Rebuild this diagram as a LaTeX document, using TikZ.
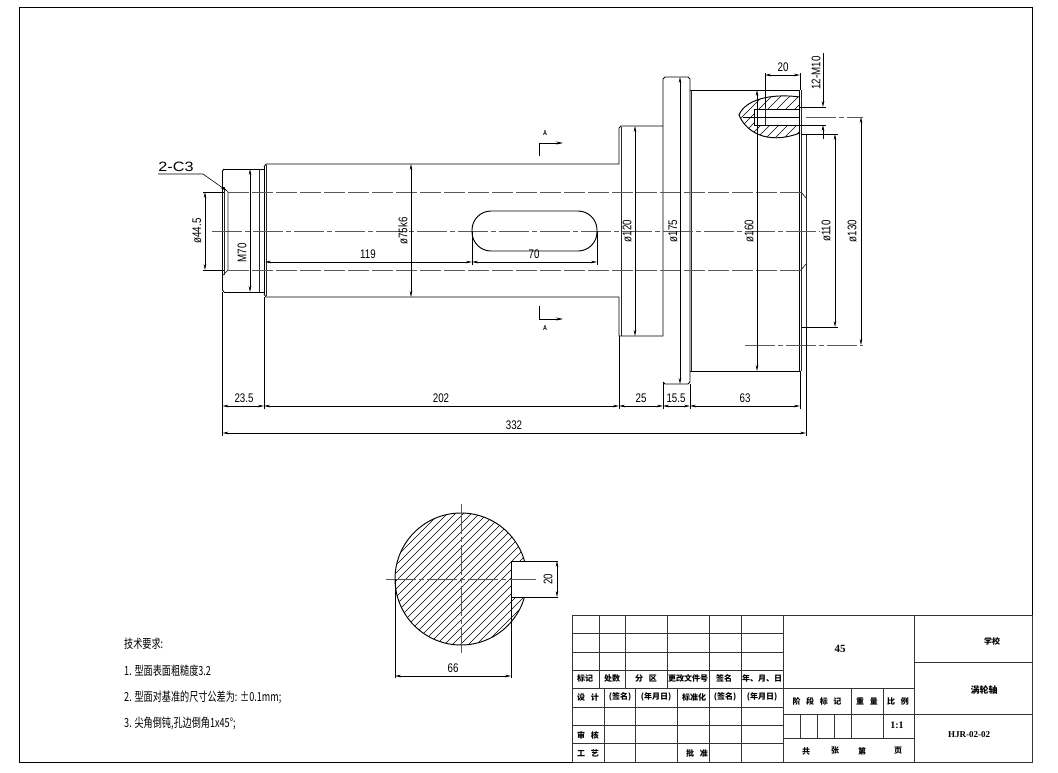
\documentclass[tikz,border=0pt]{standalone}
\usepackage{fontspec}
\usetikzlibrary{arrows.meta}
\newfontfamily\dimfont[FakeStretch=0.78]{Liberation Sans}
\newfontfamily\leaderfont[FakeStretch=1.2]{Liberation Sans}
\newfontfamily\cjk[FakeStretch=0.73]{Noto Sans CJK SC}
\newfontfamily\cjkb{Noto Sans CJK SC}
\newfontfamily\titlefont{Liberation Serif}
\newcommand{\gp}{\hspace{.7em}}
\tikzset{
  part/.style={line width=0.95pt,black},
  thinpart/.style={line width=0.7pt,black!85},
  dimline/.style={line width=0.6pt,{Stealth[length=6pt,width=2.6pt]}-{Stealth[length=6pt,width=2.6pt]}},
  extline/.style={line width=0.6pt},
  centerline/.style={line width=0.9pt,black!65,dash pattern=on 30pt off 3pt on 5pt off 3pt},
  holeline/.style={line width=0.9pt,black!65,dash pattern=on 21pt off 3pt},
  hatchline/.style={line width=0.5pt},
  dimtext/.style={font=\dimfont\fontsize{12.5}{12.5}\selectfont,inner sep=0pt},
  notetext/.style={font=\cjk\fontsize{12.5}{12.5}\selectfont,inner sep=0pt,anchor=west},
  tbl/.style={line width=0.9pt,black!80},
  tbltext/.style={font=\cjkb\bfseries\fontsize{8}{8}\selectfont,inner sep=0pt},
  tbllatin/.style={font=\titlefont\bfseries\fontsize{10}{10}\selectfont,inner sep=0pt}
}
\begin{document}
\begin{tikzpicture}[x=1pt,y=-1pt]
\useasboundingbox (0,0) rectangle (1058,772);
\draw[line width=0.9pt] (19,7) rectangle (1032,762);

% shaft outline
\draw[part] (224,169)--(264,169) (224,292)--(264,292);
\draw[part] (222.5,171)--(224,169) (222.5,290)--(224,292);
\draw[part] (222.5,171)--(222.5,290);
\draw[thinpart] (224.5,187)--(224.5,275);
\draw[thinpart] (259,169)--(259,292);
\draw[part] (264,167)--(266,164)--(619,164) (264,294)--(266,297)--(619,297);
\draw[part] (264.5,167)--(264.5,294);
\draw[thinpart] (266.5,165)--(266.5,296);
\draw[part] (619,164)--(619,128)--(621,126)--(663,126) (619,297)--(619,336)--(663,336);
\draw[thinpart] (621,127)--(621,336);
\draw[part] (663,336)--(663,79)--(665,77)--(688,77)--(690,79)--(690,382)--(688,384)--(665,384)--(663,382);
\draw[thinpart] (691.5,90)--(691.5,371);
\draw[part] (690,90)--(799,90)--(799,371)--(690,371);
\draw[thinpart] (801,90)--(801,371);
\draw[part] (801,134)--(806,134) (801,327)--(806,327);
\draw[thinpart] (806,134)--(806,327);

% center and hole lines
\draw[centerline] (212,231)--(820,231);
\draw[holeline] (228,192)--(801,192) (228,270)--(801,270);
\draw[thinpart] (223,187)--(228,192)--(228,270)--(223,275);
\draw[thinpart] (801,192)--(806,198) (801,270)--(806,264);

% keyway
\draw[part,rounded corners=19pt] (472,211) rectangle (597,251);

% section marks
\draw[extline,-{Stealth[length=7pt,width=3pt]}] (539,156)--(539,143)--(563,143);
\draw[extline,-{Stealth[length=7pt,width=3pt]}] (539,306)--(539,319)--(563,319);
\node[font=\bfseries\dimfont\fontsize{7}{7}\selectfont,inner sep=0pt] (markAtop) at (545,133) {A};
\node[font=\bfseries\dimfont\fontsize{7}{7}\selectfont,inner sep=0pt] (markAbot) at (545,328) {A};

% broken out part with tapped hole
\begin{scope}
\clip (800,97) .. controls (770,93) and (745,100) .. (739,115) .. controls (745,130) and (765,146) .. (800,133) --(800,125)--(754,125)--(754,109)--(800,109)--cycle;
\foreach \c in {770,779,...,905}
  \draw[hatchline] (\c,80)--(\c-80,160);
\end{scope}
\draw[part] (800,97) .. controls (770,93) and (745,100) .. (739,115) .. controls (745,130) and (765,146) .. (800,133);
\draw[part] (754,109)--(800,109) (754,125)--(800,125) (754,109)--(754,125);
\draw[thinpart] (765,107)--(765,125);
\draw[part] (743,117)--(800,117);
\draw[centerline] (806,117)--(863,117);
\draw[centerline] (745,345)--(863,345);

% extension lines
\draw[extline] (222.5,292)--(222.5,436) (264,297)--(264,409) (619,336)--(619,409) (663,382)--(663,409);
\draw[extline] (690,384)--(690,409) (800,371)--(800,409) (806,327)--(806,436);
\draw[extline] (203,192)--(224,192) (203,270)--(224,270);
\draw[extline] (472,231)--(472,265) (597,231)--(597,265);
\draw[extline] (765,73)--(765,107) (800,73)--(800,90);
\draw[extline] (800,107)--(826,107) (800,125)--(826,125);
\draw[extline] (806,134)--(838,134) (806,327)--(838,327);

% dimensions
\draw[dimline] (205,192)--(205,270);
\draw[dimline] (250,169)--(250,292);
\draw[dimline] (411,164)--(411,297);
\draw[dimline] (265,262)--(472,262);
\draw[dimline] (472,262)--(597,262);
\draw[dimline] (635,126)--(635,336);
\draw[dimline] (680,77)--(680,384);
\draw[dimline] (757,90)--(757,371);
\draw[dimline] (835,134)--(835,327);
\draw[dimline] (861,117)--(861,345);
\draw[dimline] (765,75)--(800,75);
\draw[line width=0.6pt,-{Stealth[length=6pt,width=2.6pt]}] (823,53)--(823,107);
\draw[line width=0.6pt,-{Stealth[length=6pt,width=2.6pt]}] (823,139)--(823,125);
\draw[dimline] (222.5,406)--(264,406);
\draw[dimline] (264,406)--(619,406);
\draw[dimline] (619,406)--(663,406);
\draw[dimline] (663,406)--(690,406);
\draw[dimline] (690,406)--(800,406);
\draw[dimline] (222.5,433)--(806,433);

% chamfer leader
\draw[extline,-{Stealth[length=7pt,width=2.6pt]}] (158,174)--(203,174)--(227,191);
\node[font=\leaderfont\fontsize{13.5}{13.5}\selectfont,inner sep=0pt] (lblChamfer) at (176,167) {2-C3};

\foreach \px/\py/\txt/\nm in {197/231/ø44.5/Bore,242/253/M70/Thread,403/231/ø75k6/Shaft,627/231/ø120/Collar,673/231/ø175/Flange,749/231/ø160/Hub,826/231/ø110/Recess,852/231/ø130/Circle,816/73/12-M10/Tap}
  \node[dimtext,rotate=90] (lbl\nm) at (\px,\py) {\txt};
\foreach \px/\py/\txt/\nm in {368/254/119/Key,534/254/70/Slot,783/67/20/Depth,244/398/23.5/LenA,441/398/202/LenB,641/398/25/LenC,676/398/15.5/LenD,745/398/63/LenE,514/425/332/Total,453/668/66/Flat}
  \node[dimtext] (lbl\nm) at (\px,\py) {\txt};
\node[dimtext,rotate=90] (lblKeyW) at (548,579) {20};

% section A-A
\begin{scope}
\clip (390,505)--(540,505)--(540,561)--(511,561)--(511,597)--(540,597)--(540,655)--(390,655)--cycle;
\clip (461,579) circle (66);
\foreach \c in {945,953,...,1137}
  \draw[hatchline] (\c-380,380)--(\c-680,680);
\end{scope}
\begin{scope}
\clip (390,505)--(540,505)--(540,561)--(511,561)--(511,597)--(540,597)--(540,655)--(390,655)--cycle;
\draw[part] (461,579) circle (66);
\end{scope}
\draw[part] (558,561)--(511,561)--(511,597)--(558,597);
\draw[centerline] (386,579)--(536,579);
\draw[centerline] (461,504)--(461,653);
\draw[extline] (395,579)--(395,678) (511,597)--(511,678);
\draw[dimline] (395,676)--(511,676);
\draw[dimline] (557,561)--(557,597);

% technical notes
\node[notetext] (noteHead) at (124,644) {技术要求:};
\node[notetext] (noteOne) at (124,671) {1. 型面表面粗糙度3.2};
\node[notetext] (noteTwo) at (124,697) {2. 型面对基准的尺寸公差为: ±0.1mm;};
\node[notetext] (noteThree) at (124,723) {3. 尖角倒钝,孔边倒角1x45°;};

% title block
\draw[tbl] (572,615) rectangle (1032,762);
\foreach \yy in {633,652,670,688,707,725,743}
  \draw[tbl] (572,\yy)--(783,\yy);
\foreach \xx in {599,625,667,709,741}
  \draw[tbl] (\xx,615)--(\xx,688);
\foreach \xx in {604,635,677,709,741}
  \draw[tbl] (\xx,688)--(\xx,762);
\foreach \xx in {783,914}
  \draw[tbl] (\xx,615)--(\xx,762);
\foreach \yy in {688,714,738}
  \draw[tbl] (783,\yy)--(914,\yy);
\draw[tbl] (914,662)--(1032,662) (914,714)--(1032,714);
\foreach \xx in {851,883}
  \draw[tbl] (\xx,688)--(\xx,738);
\foreach \xx in {800,817,834}
  \draw[tbl] (\xx,714)--(\xx,738);

\foreach \px/\py/\txt/\nm in {585/678/标记/a,612/678/处数/b,646/678/分\gp 区/c,688/678/更改文件号/d,724/678/签名/e,762/678/年、月、日/f,
  588/697/设\gp 计/g,620/697/(签名)/h,656/697/(年月日)/i,694/697/标准化/j,725/697/(签名)/k,762/697/(年月日)/l,
  588/735/审\gp 核/m,588/753/工\gp 艺/n,697/753/批\gp 准/o,
  817/701/阶\gp 段\gp 标\gp 记/p,867/701/重\gp 量/q,898/701/比\gp 例/r,
  806/751/共/s,835/751/张/t,862/751/第/u,898/751/页/v,992/641/学校/w}
  \node[tbltext] (tb\nm) at (\px,\py) {\txt};
\node[tbltext,font=\cjkb\bfseries\fontsize{9}{9}\selectfont] (tbPart) at (984,690) {涡轮轴};
\node[tbllatin,font=\titlefont\bfseries\fontsize{11}{11}\selectfont] (tbMat) at (840,649) {45};
\node[tbllatin] (tbScale) at (897,725) {1:1};
\node[tbllatin,font=\titlefont\bfseries\fontsize{9}{9}\selectfont] (tbCode) at (969,735) {HJR-02-02};
\end{tikzpicture}
\end{document}
